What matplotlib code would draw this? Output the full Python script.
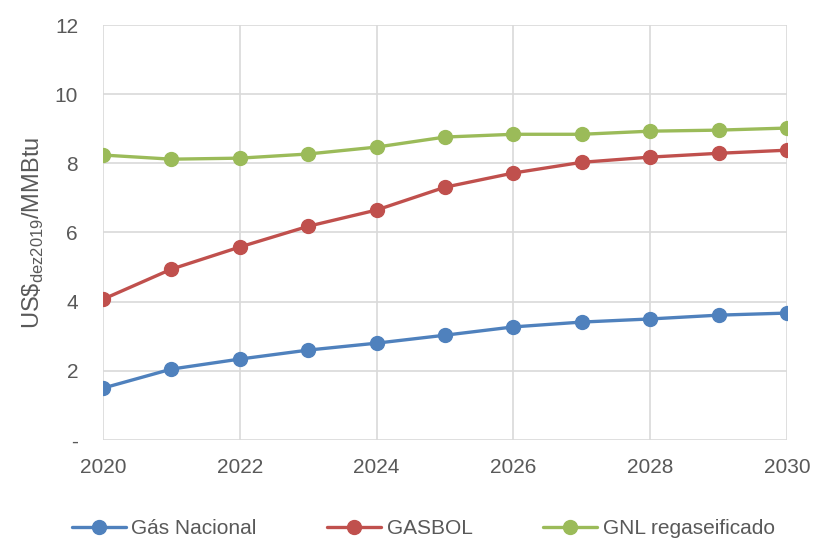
import matplotlib.pyplot as plt

plt.rcParams['font.family'] = ['Liberation Sans', 'DejaVu Sans']
plt.rcParams['mathtext.fontset'] = 'custom'
plt.rcParams['mathtext.rm'] = 'Liberation Sans'

anos = [2020, 2021, 2022, 2023, 2024, 2025, 2026, 2027, 2028, 2029, 2030]
gas_nacional = [1.50, 2.05, 2.34, 2.60, 2.80, 3.03, 3.27, 3.41, 3.50, 3.61, 3.67]
gasbol = [4.07, 4.94, 5.58, 6.18, 6.65, 7.31, 7.72, 8.03, 8.18, 8.29, 8.38]
gnl = [8.24, 8.12, 8.15, 8.27, 8.47, 8.76, 8.84, 8.84, 8.93, 8.96, 9.02]

series = [
    ('Gás Nacional', gas_nacional, '#4F81BD'),
    ('GASBOL', gasbol, '#C0504D'),
    ('GNL regaseificado', gnl, '#9BBB59'),
]

texto = '#595959'

fig = plt.figure(figsize=(8.13, 5.4), dpi=100)
ax = fig.add_axes([0.1267, 0.1852, 0.8413, 0.7685])

for nome, valores, cor in series:
    ax.plot(anos, valores, color=cor, lw=2.4, marker='o', markersize=10,
            label=nome, solid_capstyle='round')

ax.set_xlim(2020, 2030)
ax.set_ylim(0, 12)
ax.set_xticks(range(2020, 2031, 2))
ax.set_yticks(range(0, 13, 2))
ax.set_yticklabels(['-', '2', '4', '6', '8', '10', '12'])
ax.grid(True, color='#D9D9D9', lw=1.2)
ax.set_axisbelow(True)
for s in ax.spines.values():
    s.set_visible(False)
ax.tick_params(length=0, labelsize=15, colors=texto)
ax.tick_params(axis='y', pad=18)
ax.tick_params(axis='x', pad=13)

ax.set_ylabel(r'US\$$_{\rm dez2019}$/MMBtu', fontsize=17, color=texto, labelpad=6)

ax.legend(loc='upper center', bbox_to_anchor=(0.468, -0.145), ncol=3, frameon=False,
          fontsize=15, labelcolor=texto, columnspacing=3.4, handlelength=2.6,
          handletextpad=0.25)

fig.savefig('out.png', dpi=100)
